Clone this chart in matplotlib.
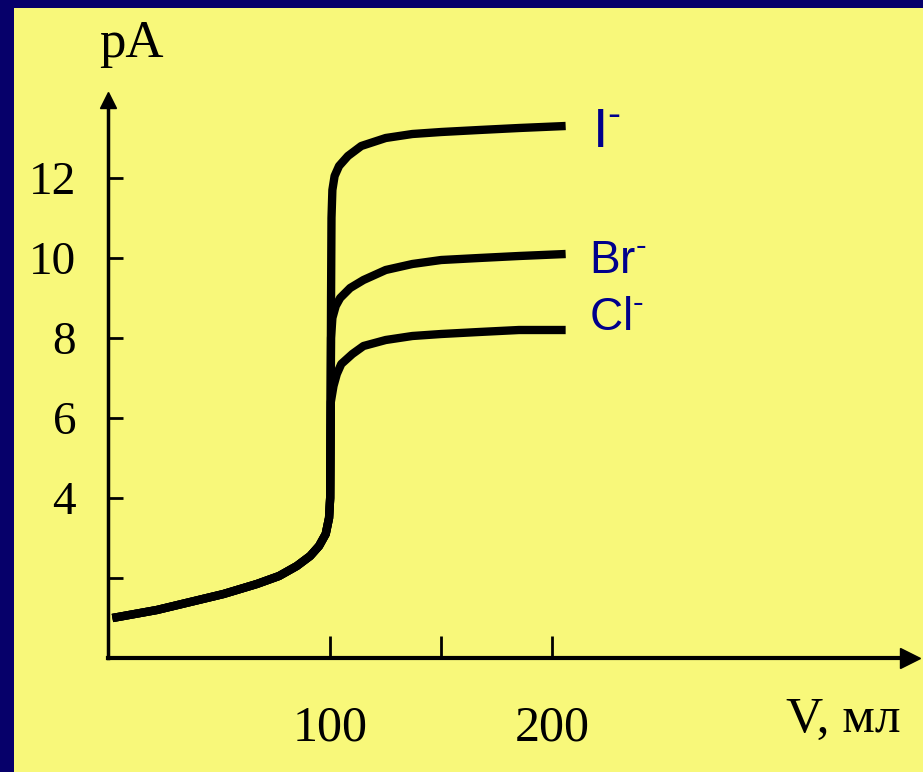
import matplotlib.pyplot as plt
from matplotlib.patches import Rectangle

plt.rcParams['mathtext.fontset'] = 'custom'
plt.rcParams['mathtext.rm'] = 'Liberation Sans'
plt.rcParams['mathtext.it'] = 'Liberation Sans'

# общий участок кривой титрования (до точки эквивалентности)
v_common = [2, 12, 22, 37, 52, 67, 77, 85, 91, 95, 98, 99.5, 100]
pa_common = [1.0, 1.1, 1.2, 1.4, 1.6, 1.85, 2.05, 2.3, 2.55, 2.8, 3.1, 3.5, 4.0]

# ветви после скачка
v_i = [100.2, 100.4, 100.6, 101, 102, 104, 108, 114, 125, 137, 150, 167, 185, 206]
pa_i = [6.0, 9.0, 11.0, 11.7, 12.05, 12.3, 12.55, 12.8, 13.0, 13.1, 13.15, 13.2, 13.25, 13.3]
v_br = [100.4, 101, 102.5, 104.5, 109, 115, 125, 137, 150, 167, 185, 206]
pa_br = [8.0, 8.5, 8.8, 9.0, 9.25, 9.45, 9.7, 9.85, 9.95, 10.0, 10.05, 10.1]
v_cl = [100.3, 101.5, 103, 105, 110, 115, 125, 137, 150, 167, 185, 206]
pa_cl = [6.4, 6.8, 7.1, 7.35, 7.6, 7.8, 7.95, 8.05, 8.1, 8.15, 8.2, 8.2]

ions = [r'I$^{\text{-}}$', r'Br$^{\text{-}}$', r'Cl$^{\text{-}}$']
ion_pos = [(218, 12.78), (216.5, 9.62), (216.5, 8.2)]
ion_size = [40, 33, 33]

y_ticks = [2, 4, 6, 8, 10, 12]
y_labels = ['', '4', '6', '8', '10', '12']
x_ticks = [100, 150, 200]
x_labels = ['100', '', '200']

W, H = 923, 772
fig = plt.figure(figsize=(W / 100, H / 100), dpi=100, facecolor='#06006A')
fig.patches.append(Rectangle((14 / W, 0), 1 - 14 / W, 1 - 8 / H,
                             transform=fig.transFigure, facecolor='#F8F87A',
                             edgecolor='none', zorder=-10))

ax = fig.add_axes([108 / W, (H - 658) / H, (910 - 108) / W, (658 - 100) / H])
ax.set_facecolor('none')
ax.set_xlim(0, 361)
ax.set_ylim(0, 13.95)

for v, pa in [(v_i, pa_i), (v_br, pa_br), (v_cl, pa_cl)]:
    ax.plot(v_common + v, pa_common + pa, color='black', lw=6,
            solid_capstyle='butt', solid_joinstyle='round')

for spine in ['top', 'right']:
    ax.spines[spine].set_visible(False)
ax.spines['left'].set_linewidth(2.5)
ax.spines['bottom'].set_linewidth(3)
ax.plot(1, 0, '>k', ms=14, transform=ax.get_yaxis_transform(), clip_on=False)
ax.plot(0, 1, '^k', ms=12, transform=ax.get_xaxis_transform(), clip_on=False)

serif = 'Liberation Serif'
ax.set_yticks(y_ticks)
ax.set_yticklabels(y_labels, fontfamily=serif, fontsize=34)
ax.set_xticks(x_ticks)
ax.set_xticklabels(x_labels, fontfamily=serif, fontsize=36)
ax.tick_params(axis='y', direction='in', length=11, width=2, pad=23)
ax.tick_params(axis='x', direction='in', length=16, width=2, pad=34)

fig.text(131 / W, 1 - 44 / H, 'pA', fontfamily=serif, fontsize=38,
         ha='center', va='center')
fig.text(843 / W, 1 - 720 / H, 'V, мл', fontfamily=serif, fontsize=37,
         ha='center', va='center')

for label, (x, y), fs in zip(ions, ion_pos, ion_size):
    ax.text(x, y, label, color='#00008C', fontsize=fs,
            fontfamily='Liberation Sans', ha='left', va='baseline')

fig.savefig('out.png', dpi=100, facecolor=fig.get_facecolor())
